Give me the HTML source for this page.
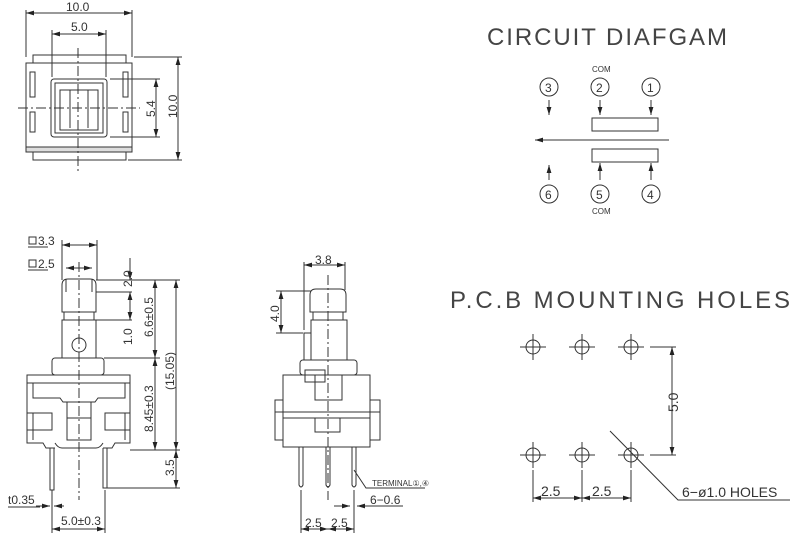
<!DOCTYPE html>
<html><head><meta charset="utf-8"><style>
html,body{margin:0;padding:0;background:#fff;}
svg{display:block;}
text{font-family:"Liberation Sans",sans-serif;fill:#333;}
</style></head><body>
<svg width="800" height="539" viewBox="0 0 800 539" xmlns="http://www.w3.org/2000/svg">
<defs>
<marker id="a" viewBox="0 0 10 6" refX="10" refY="3" markerWidth="8" markerHeight="5" orient="auto-start-reverse"><path d="M0,0 L10,3 L0,6z" fill="#222"/></marker>
</defs>
<g stroke="#333" stroke-width="1" fill="none">
<!-- TOP VIEW -->
<line x1="26" y1="10" x2="26" y2="57"/><line x1="132" y1="10" x2="132" y2="57"/>
<line x1="26" y1="13" x2="132" y2="13" marker-start="url(#a)" marker-end="url(#a)"/>
<line x1="52" y1="30" x2="52" y2="77"/><line x1="106" y1="30" x2="106" y2="77"/>
<line x1="52" y1="34" x2="106" y2="34" marker-start="url(#a)" marker-end="url(#a)"/>
<rect x="33" y="55" width="93" height="8"/>
<rect x="26" y="63" width="106" height="84"/>
<rect x="26" y="147" width="106" height="5" fill="#ddd"/>
<rect x="33" y="152" width="93" height="8"/>
<rect x="51" y="79" width="56" height="58" rx="3"/>
<rect x="55" y="83" width="48" height="50"/>
<rect x="60" y="90" width="38" height="40"/>
<line x1="70" y1="90" x2="70" y2="128"/><line x1="88" y1="90" x2="88" y2="128"/>
<rect x="30" y="72" width="5" height="25"/><rect x="123" y="72" width="5" height="25"/>
<rect x="30" y="112" width="5" height="20"/><rect x="123" y="112" width="5" height="20"/>
<line x1="78" y1="48" x2="78" y2="172" stroke-dasharray="10,3,2,3"/>
<line x1="18" y1="108" x2="140" y2="108" stroke-dasharray="10,3,2,3"/>
<line x1="110" y1="79" x2="160" y2="79"/><line x1="110" y1="137" x2="160" y2="137"/>
<line x1="156" y1="79" x2="156" y2="137" marker-start="url(#a)" marker-end="url(#a)"/>
<line x1="134" y1="57" x2="182" y2="57"/><line x1="128" y1="160" x2="182" y2="160"/>
<line x1="178" y1="57" x2="178" y2="160" marker-start="url(#a)" marker-end="url(#a)"/>

<!-- SIDE VIEW 1 -->
<path d="M28,247 H48 M28,270 H48"/>
<rect x="29" y="237" width="7" height="7"/><rect x="29" y="260" width="7" height="7"/>
<line x1="62" y1="240" x2="62" y2="280"/><line x1="97" y1="240" x2="97" y2="280"/>
<line x1="62" y1="245" x2="97" y2="245" marker-start="url(#a)" marker-end="url(#a)"/>
<line x1="66" y1="268" x2="92" y2="268" marker-start="url(#a)" marker-end="url(#a)"/>
<path d="M62,312 V285 Q62,279 68,279 H90 Q96,279 96,285 V312 Z"/>
<path d="M66,279 V292 M92,279 V292"/>
<rect x="64" y="312" width="30" height="8"/>
<rect x="62" y="320" width="34" height="38"/>
<circle cx="79" cy="345" r="7"/>
<rect x="52" y="358" width="52" height="17" rx="3"/>
<rect x="27" y="375" width="103" height="8"/>
<path d="M33,383 V398 H60 L63,402 H95 L98,398 H125 V383"/>
<path d="M27,383 V443 H43 L46,448 H55 M130,383 V443 H115 L112,448 H103"/>
<path d="M27,413 H52 V430 H27 M130,413 H105 V430 H130"/>
<path d="M33,413 V440 M125,413 V440"/>
<path d="M55,443 Q58,448 62,448 H96 Q100,448 103,443"/>
<path d="M67,402 V440 H91 V402 M67,418 H91"/>
<path d="M50,448 V490 H54 V448 M103,448 V488 H107 V448"/>
<line x1="79" y1="262" x2="79" y2="500" stroke-dasharray="10,3,2,3"/>
<path d="M96,280 H180 M96,292 H132 M96,320 H132 M104,358 H160 M130,450 H180 M107,488 H180"/>
<line x1="130" y1="258" x2="130" y2="280" marker-end="url(#a)"/>
<line x1="130" y1="292" x2="130" y2="320" marker-start="url(#a)" marker-end="url(#a)"/>
<line x1="155" y1="280" x2="155" y2="358" marker-start="url(#a)" marker-end="url(#a)"/>
<line x1="155" y1="358" x2="155" y2="450" marker-start="url(#a)" marker-end="url(#a)"/>
<line x1="176" y1="280" x2="176" y2="450" marker-start="url(#a)" marker-end="url(#a)"/>
<line x1="176" y1="450" x2="176" y2="488" marker-start="url(#a)" marker-end="url(#a)"/>
<path d="M8,507 H40"/>
<line x1="36" y1="506" x2="50" y2="506" marker-end="url(#a)"/>
<line x1="64" y1="506" x2="54" y2="506" marker-end="url(#a)"/>
<line x1="52" y1="490" x2="52" y2="533"/><line x1="105" y1="490" x2="105" y2="533"/>
<line x1="52" y1="529" x2="105" y2="529" marker-start="url(#a)" marker-end="url(#a)"/>

<!-- SIDE VIEW 2 -->
<line x1="304" y1="262" x2="304" y2="330"/><line x1="345" y1="262" x2="345" y2="290"/>
<line x1="304" y1="265" x2="345" y2="265" marker-start="url(#a)" marker-end="url(#a)"/>
<path d="M276,291 H311 M276,333 H303"/>
<line x1="281" y1="291" x2="281" y2="333" marker-start="url(#a)" marker-end="url(#a)"/>
<path d="M310,312 V295 Q310,289 316,289 H340 Q346,289 346,295 V312 Z"/>
<rect x="313" y="312" width="30" height="8"/>
<rect x="311" y="320" width="36" height="40"/>
<rect x="304" y="333" width="7" height="27"/>
<rect x="300" y="360" width="57" height="15" rx="3"/>
<rect x="305" y="370" width="20" height="12"/>
<path d="M283,375 H370 V400 H380 V440 H370 V447 H283 V440 H275 V400 H283 Z"/>
<path d="M283,400 V440 M370,400 V440 M275,412 H380 M283,418 H370"/>
<path d="M315,375 V400 H342 V375"/>
<path d="M315,418 V432 H340 V418"/>
<path d="M299,447 V485 Q301,489 303,485 V447 M326,447 V485 Q328,489 330,485 V447 M352,447 V485 Q354,489 356,485 V447"/>
<line x1="328" y1="275" x2="328" y2="500" stroke-dasharray="10,3,2,3"/>
<line x1="301" y1="490" x2="301" y2="533"/><line x1="354" y1="490" x2="354" y2="533"/>
<line x1="301" y1="529" x2="328" y2="529" marker-start="url(#a)" marker-end="url(#a)"/>
<line x1="328" y1="529" x2="354" y2="529" marker-start="url(#a)" marker-end="url(#a)"/>
<line x1="334" y1="506" x2="350" y2="506" marker-end="url(#a)"/>
<line x1="370" y1="506" x2="357" y2="506" marker-end="url(#a)"/>
<path d="M370,506 H403"/>
<path d="M354,470 L366,488 H425"/>

<!-- CIRCUIT -->
<circle cx="549" cy="87" r="9"/><circle cx="600" cy="87" r="9"/><circle cx="651" cy="87" r="9"/>
<circle cx="549" cy="194" r="9"/><circle cx="600" cy="194" r="9"/><circle cx="651" cy="194" r="9"/>
<line x1="549" y1="100" x2="549" y2="115" marker-end="url(#a)"/>
<line x1="600" y1="100" x2="600" y2="115" marker-end="url(#a)"/>
<line x1="651" y1="100" x2="651" y2="115" marker-end="url(#a)"/>
<line x1="549" y1="180" x2="549" y2="165" marker-end="url(#a)"/>
<line x1="600" y1="180" x2="600" y2="163" marker-end="url(#a)"/>
<line x1="651" y1="180" x2="651" y2="163" marker-end="url(#a)"/>
<rect x="592" y="118" width="66" height="13"/>
<rect x="592" y="149" width="66" height="13"/>
<line x1="669" y1="140" x2="535" y2="140" marker-end="url(#a)"/>

<!-- PCB -->
<g id="h">
<circle cx="533" cy="347" r="7"/><path d="M520,347 H546 M533,334 V360"/>
</g>
<use href="#h" x="49"/><use href="#h" x="98"/>
<use href="#h" y="108"/><use href="#h" x="49" y="108"/><use href="#h" x="98" y="108"/>
<path d="M650,347 H676 M650,455 H676"/>
<line x1="672" y1="347" x2="672" y2="455" marker-start="url(#a)" marker-end="url(#a)"/>
<path d="M533,470 V502 M582,470 V502 M631,470 V502"/>
<line x1="533" y1="498" x2="582" y2="498" marker-start="url(#a)" marker-end="url(#a)"/>
<line x1="582" y1="498" x2="631" y2="498" marker-start="url(#a)" marker-end="url(#a)"/>
<path d="M610,431 L678,500 H790"/>
</g>
<g font-size="12">
<text x="66" y="11">10.0</text>
<text x="71" y="31">5.0</text>
<text transform="translate(155,117) rotate(-90)">5.4</text>
<text transform="translate(177,118) rotate(-90)">10.0</text>
<text x="38" y="245">3.3</text>
<text x="38" y="268">2.5</text>
<text transform="translate(132,287) rotate(-90)">2.0</text>
<text transform="translate(132,345) rotate(-90)">1.0</text>
<text transform="translate(153,337) rotate(-90)">6.6±0.5</text>
<text transform="translate(153,432) rotate(-90)">8.45±0.3</text>
<text transform="translate(174,390) rotate(-90)">(15.05)</text>
<text transform="translate(174,476) rotate(-90)">3.5</text>
<text x="8" y="504">t0.35</text>
<text x="61" y="525">5.0±0.3</text>
<text x="315" y="264">3.8</text>
<text transform="translate(279,322) rotate(-90)">4.0</text>
<text x="372" y="486" font-size="8">TERMINAL①,④</text>
<text x="370" y="504">6−0.6</text>
<text x="305" y="527">2.5</text><text x="331" y="527">2.5</text>
<text x="545" y="92">3</text><text x="596" y="92">2</text><text x="647" y="92">1</text>
<text x="545" y="199">6</text><text x="596" y="199">5</text><text x="647" y="199">4</text>
<text x="592" y="72" font-size="8">COM</text><text x="592" y="214" font-size="8">COM</text>
<text x="541" y="496" font-size="14">2.5</text><text x="592" y="496" font-size="14">2.5</text>
<text transform="translate(678,412) rotate(-90)" font-size="14">5.0</text>
<text x="682" y="497" font-size="14">6−ø1.0 HOLES</text>
</g>
<text x="487" y="45" font-size="24" textLength="240" style="font-weight:300;fill:#444">CIRCUIT DIAFGAM</text>
<text x="450" y="308" font-size="24" textLength="340" style="fill:#444">P.C.B MOUNTING HOLES</text>
</svg>
</body></html>
